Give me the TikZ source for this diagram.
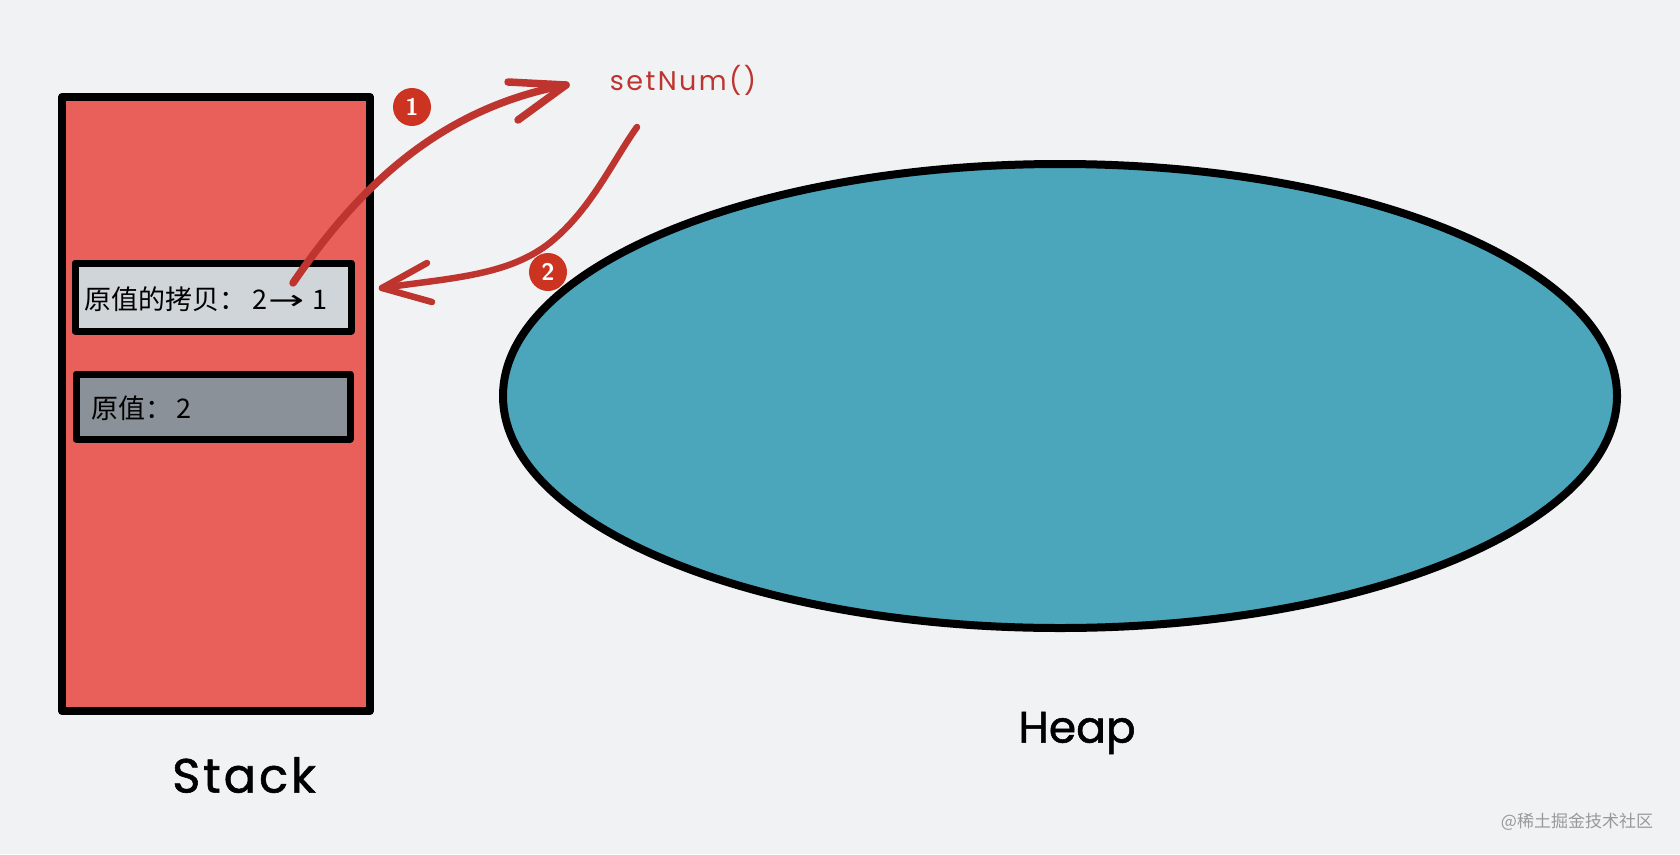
\documentclass[tikz,border=0pt]{standalone}
\usepackage{fontspec}
\newfontfamily\cjk{Noto Sans CJK SC}
\newfontfamily\hand{Poppins}[FakeBold=1.2]
\newfontfamily\handsp{Poppins}[LetterSpace=9]
\newfontfamily\dvs{DejaVu Sans}
\definecolor{bg}{HTML}{F1F2F4}
\definecolor{stackred}{HTML}{E9605A}
\definecolor{boxlight}{HTML}{D0D5DA}
\definecolor{boxdark}{HTML}{8A9199}
\definecolor{heapblue}{HTML}{4BA6BC}
\definecolor{arrred}{HTML}{BE3530}
\definecolor{badge}{HTML}{CC3320}
\tikzset{
  frame/.style={draw=black, line width=8pt, line join=round},
  slot/.style={draw=black, line width=7pt, line join=round},
  conn/.style={draw=arrred, line width=7pt, line cap=round, line join=round},
  badgecirc/.style={circle, fill=badge, minimum size=38pt, inner sep=0pt, text=white, font=\fontsize{24}{24}\selectfont\bfseries\sffamily},
  slottext/.style={anchor=west, inner sep=0pt, font=\cjk\fontsize{27}{27}\selectfont},
  handlabel/.style={font=\hand\fontsize{44}{44}\selectfont, inner sep=0pt}
}
\begin{document}
\begin{tikzpicture}[x=1pt,y=-1pt]
\useasboundingbox (0,0) rectangle (1680,854);
\fill[bg] (0,0) rectangle (1680,854);
% stack
\filldraw[frame, fill=stackred] (62,97) rectangle (370,711);
% slots
\filldraw[slot, fill=boxlight] (75,263) rectangle (351,331);
\filldraw[slot, fill=boxdark] (76,374) rectangle (350,439);
\node[slottext] (copy) at (84,299) {原值的拷贝：\hspace{6pt}2\hspace{1pt}\scalebox{1.6}[1]{\dvs →}\hspace{8pt}1};
\node[slottext] (orig) at (91,408) {原值：\hspace{4pt}2};
% heap
\filldraw[draw=black, line width=8pt, fill=heapblue] (1060,396) ellipse [x radius=557, y radius=232];
% labels
\node[handlabel, font=\hand\fontsize{48}{48}\selectfont\addfontfeature{LetterSpace=6}] (stack) at (244,775) {Stack};
\node[handlabel] (heap) at (1077,733) {Heap};
\node[font=\handsp\fontsize{27}{27}\selectfont, text=arrred, inner sep=0pt] (fn) at (683,80) {setNum()};
% connectors
\coordinate (a1s) at (293,283);
\coordinate (a1t) at (566,85);
\coordinate (a1h1) at (508,82);
\coordinate (a1h2) at (518,120);
\draw[conn, line width=7.5pt] (a1s) .. controls (350,200) and (430,110) .. (a1t);
\draw[conn, line width=7.5pt] (a1h1) -- (a1t) -- (a1h2);
\coordinate (a2s) at (637,127);
\coordinate (a2m) at (547,245);
\coordinate (a2t) at (382,288);
\coordinate (a2h1) at (427,263);
\coordinate (a2h2) at (432,302);
\draw[conn, line width=6.5pt] (a2s) .. controls (612,162) and (590,212) .. (a2m) .. controls (505,276) and (450,278) .. (a2t);
\draw[conn, line width=6.5pt] (a2h1) -- (a2t) -- (a2h2);
% badges
\node[badgecirc] (b1) at (412,107) {1};
\node[badgecirc] (b2) at (548,272) {2};
% watermark
\node[font=\cjk\fontsize{17}{17}\selectfont, text=black!40, inner sep=0pt] (wm) at (1577,822) {@稀土掘金技术社区};
\end{tikzpicture}
\end{document}
